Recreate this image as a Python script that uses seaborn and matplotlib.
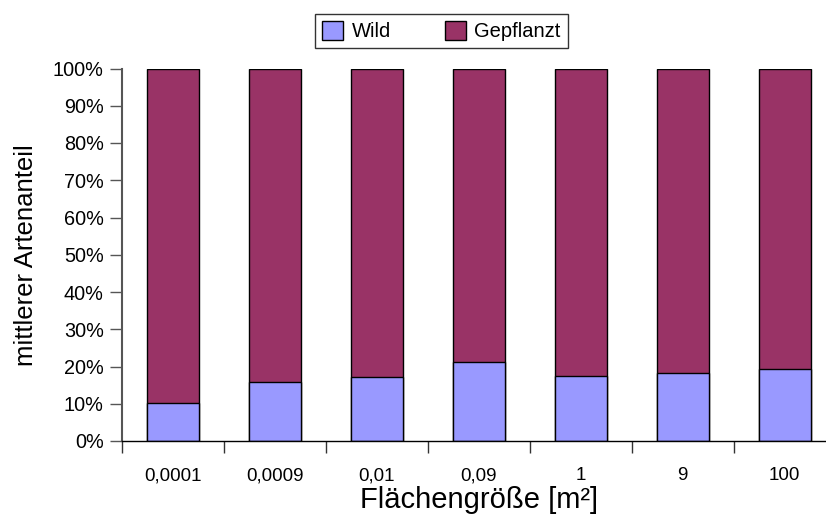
import matplotlib
matplotlib.use("Agg")
import matplotlib.pyplot as plt
import seaborn as sns
import pandas as pd
import numpy as np
from matplotlib.patches import Patch
from matplotlib.ticker import FixedLocator, PercentFormatter

categories = ["0,0001", "0,0009", "0,01", "0,09", "1", "9", "100"]
wild = [10.3, 15.8, 17.1, 21.2, 17.4, 18.2, 19.3]
gepflanzt = [100 - w for w in wild]

sns.set_theme(style="white")
plt.rcParams['font.family'] = ['Liberation Sans', 'DejaVu Sans']
plt.rcParams['text.color'] = 'black'
plt.rcParams['axes.labelcolor'] = 'black'

df = pd.DataFrame({"cat": categories, "wild": wild, "gepflanzt": gepflanzt})
df["total"] = df["wild"] + df["gepflanzt"]

c_wild = "#9999FF"
c_gep = "#993366"

W, H = 826, 516
left, right, top, bottom = 121.7, 835.7, 68.5, 441.0
fig = plt.figure(figsize=(W/100, H/100), dpi=100)
ax = fig.add_axes([left/W, 1 - bottom/H, (right-left)/W, (bottom-top)/H])

sns.barplot(data=df, x="cat", y="total", color=c_gep, edgecolor="black",
            linewidth=1, width=0.51, ax=ax, saturation=1)
sns.barplot(data=df, x="cat", y="wild", color=c_wild, edgecolor="black",
            linewidth=1, width=0.51, ax=ax, saturation=1)

ax.set_ylim(0, 100)
ax.set_xlim(-0.5, len(categories) - 0.5)
ax.set_yticks(np.arange(0, 101, 10))
ax.yaxis.set_major_formatter(PercentFormatter(decimals=0))
ax.tick_params(axis="y", left=True, length=8.5, width=1, color="#555555",
               labelsize=14.3, pad=4.5, labelcolor="black")
ax.tick_params(axis="x", which="major", bottom=False, labelsize=13.5, pad=13,
               labelcolor="black")
ax.xaxis.set_minor_locator(FixedLocator(np.arange(-0.5, len(categories), 1)))
ax.tick_params(axis="x", which="minor", bottom=True, length=8.5, width=1,
               color="#333333")

ax.set_xlabel("Flächengröße [m²]", fontsize=21, va="top", color="black")
ax.xaxis.set_label_coords(0.5, -(486 - bottom) / (bottom - top))
ax.set_ylabel("mittlerer Artenanteil", fontsize=18.5, color="black")
ax.yaxis.set_label_coords(-(left - 38) / (right - left), 0.5)

for s in ["top", "right"]:
    ax.spines[s].set_visible(False)
ax.spines["left"].set_color("#555555")
ax.spines["left"].set_linewidth(1.5)
ax.spines["bottom"].set_color("black")
ax.spines["bottom"].set_linewidth(1)

handles = [Patch(facecolor=c_wild, edgecolor="black", label="Wild"),
           Patch(facecolor=c_gep, edgecolor="black", label="Gepflanzt")]
leg = fig.legend(handles=handles, loc="center", bbox_to_anchor=(441.5/W, 1 - 31/H),
                 ncol=2, frameon=True, fancybox=False, fontsize=14.5,
                 handlelength=1.05, handleheight=1.05, columnspacing=2.7,
                 handletextpad=0.4, borderpad=0.35, borderaxespad=0)
leg.get_frame().set_edgecolor("black")
leg.get_frame().set_linewidth(1)
for t in leg.get_texts():
    t.set_color("black")

fig.savefig("out.png", dpi=100)
